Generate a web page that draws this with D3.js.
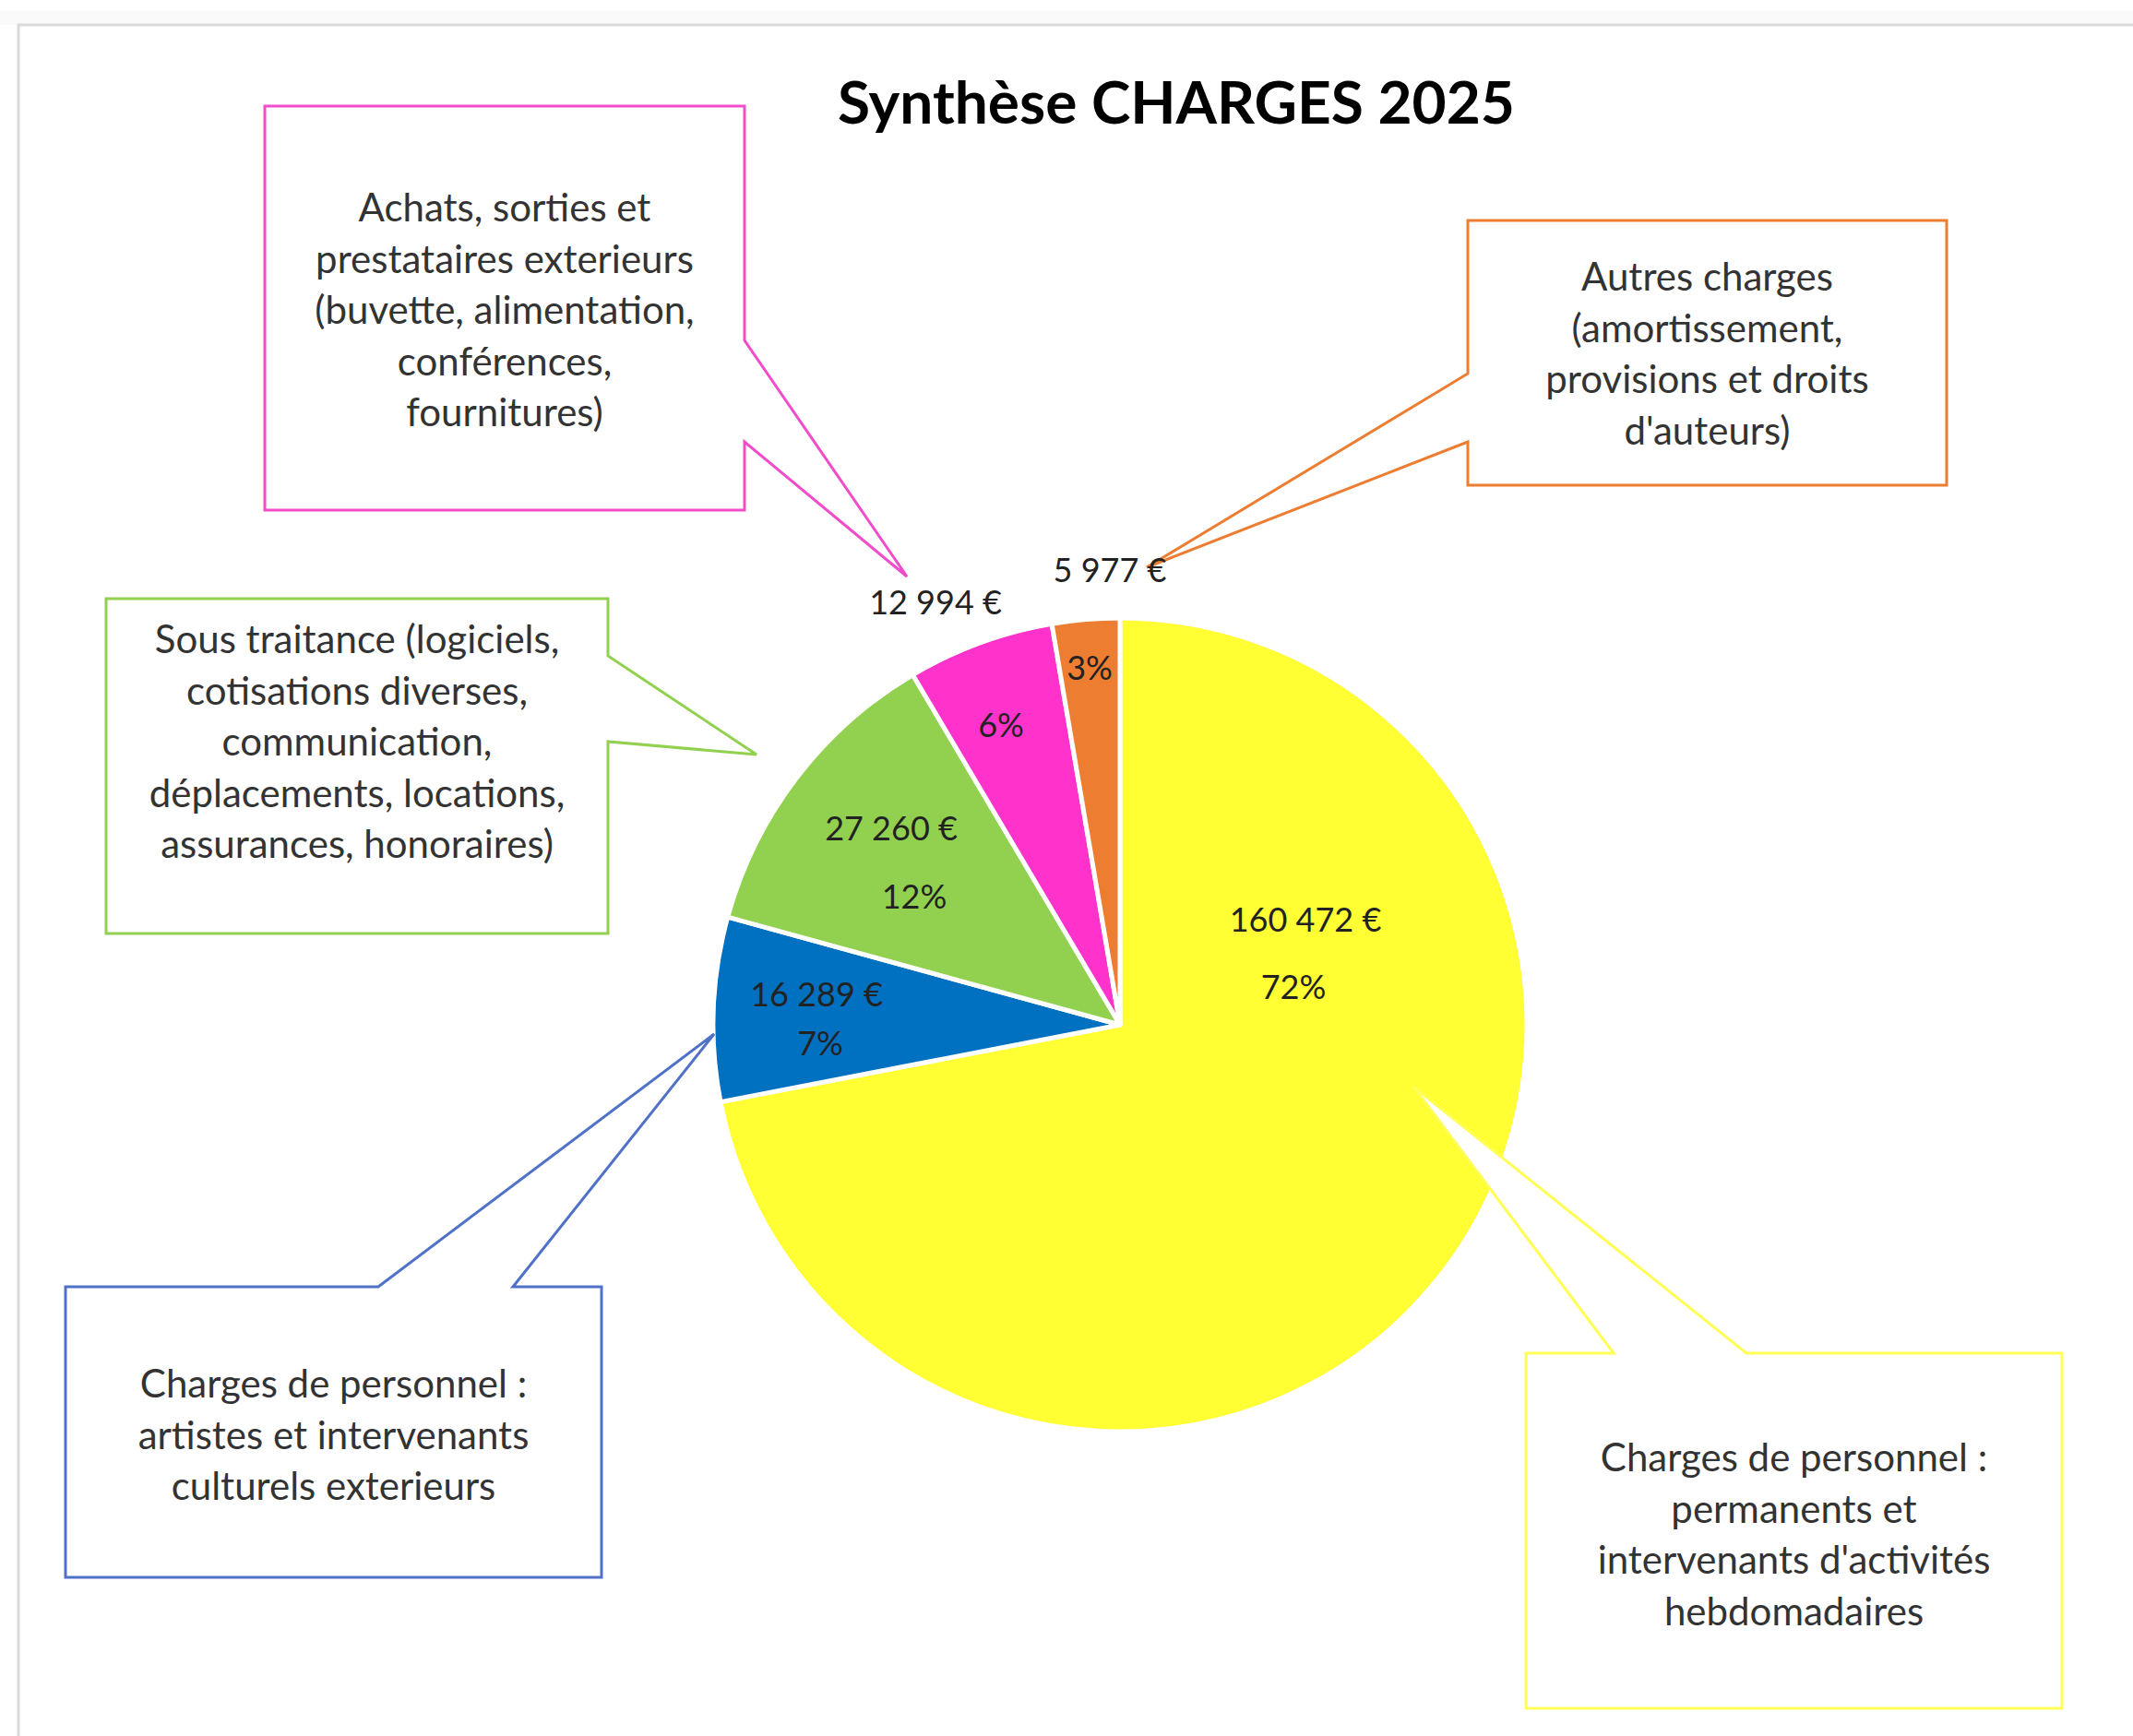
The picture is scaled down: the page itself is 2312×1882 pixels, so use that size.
<!DOCTYPE html>
<html>
<head>
<meta charset="utf-8">
<script src="https://cdn.jsdelivr.net/npm/d3@7"></script>
<style>
  body { margin: 0; background: #fff; }
  text { font-family: Lato, "Open Sans", sans-serif; }
</style>
</head>
<body>
<script>
var width = 2312, height = 1882;

// data (clockwise from 12 o'clock)
var categories = [
	"Charges de personnel : permanents et intervenants d'activités hebdomadaires",
	"Charges de personnel : artistes et intervenants culturels exterieurs",
	"Sous traitance (logiciels, cotisations diverses, communication, déplacements, locations, assurances, honoraires)",
	"Achats, sorties et prestataires exterieurs (buvette, alimentation, conférences, fournitures)",
	"Autres charges (amortissement, provisions et droits d'auteurs)"
];
var values = [160472, 16289, 27260, 12994, 5977];
var boxLines = [
	["Charges de personnel :", "permanents et", "intervenants d'activités", "hebdomadaires"],
	["Charges de personnel :", "artistes et intervenants", "culturels exterieurs"],
	["Sous traitance (logiciels,", "cotisations diverses,", "communication,", "déplacements, locations,", "assurances, honoraires)"],
	["Achats, sorties et", "prestataires exterieurs", "(buvette, alimentation,", "conférences,", "fournitures)"],
	["Autres charges", "(amortissement,", "provisions et droits", "d'auteurs)"]
];
var title = "Synthèse CHARGES 2025";

var colors = ["#ffff33", "#0070c0", "#92d050", "#ff33cc", "#ed7d31"],
	boxColors = ["#ffff55", "#4f72c8", "#92d050", "#f04ccc", "#ed7d31"];

// layout
var cx = 1214, cy = 1111, radius = 441;
// label offsets from pie centre: [value label, percent label]
var labelPos = [
	[[201, -114], [188, -41]],
	[[-329, -33], [-325, 20]],
	[[-248, -213], [-223, -139]],
	[[-200, -458], [-129, -325]],
	[[-11, -493], [-33, -387]]
];
// callout boxes: x0, y0, x1, y1, side of the tail, tail start/end along side, tip, first text line centre
var callouts = [
	{ box: [1654, 1467, 2235, 1852], side: "top", a: 1749, b: 1893, tip: [1532, 1178], ty: 1581 },
	{ box: [71, 1395, 652, 1710], side: "top", a: 410, b: 556, tip: [774, 1121], ty: 1501 },
	{ box: [115, 649, 659, 1012], side: "right", a: 711, b: 804, tip: [820, 818], ty: 694 },
	{ box: [287, 115, 807, 553], side: "right", a: 369, b: 479, tip: [983, 625], ty: 226 },
	{ box: [1591, 239, 2110, 526], side: "left", a: 405, b: 479, tip: [1243, 615], ty: 301 }
];
var lineH = 55.5, boxFont = 42, fontSize = 36;

var svg = d3.select("body").append("svg")
	.attr("width", width)
	.attr("height", height);

// frame
svg.append("rect").attr("x", 0).attr("y", 12).attr("width", width).attr("height", 15).style("fill", "#fafafa");
svg.append("path")
	.attr("d", "M20," + height + "V27H" + width)
	.style("fill", "none").style("stroke", "#d9d9d9").style("stroke-width", 3);

svg.append("text")
	.attr("x", 1275).attr("y", 134)
	.style("text-anchor", "middle")
	.style("font-size", "64px").style("font-weight", "bold").style("fill", "#000")
	.text(title);

var total = d3.sum(values);
var pie = d3.pie().sort(null).value(function(d) { return d; });
var arc = d3.arc().innerRadius(0).outerRadius(radius);
var arcs = pie(values);

var g = svg.append("g").attr("transform", "translate(" + cx + "," + cy + ")");
g.selectAll(".slice")
	.data(arcs)
	.enter().append("path")
	.attr("class", "slice")
	.attr("d", arc)
	.style("fill", function(d, i) { return colors[i]; })
	.style("stroke", "#fff")
	.style("stroke-width", 5)
	.style("stroke-linejoin", "round");

// callouts
function calloutPath(c) {
	var x0 = c.box[0], y0 = c.box[1], x1 = c.box[2], y1 = c.box[3];
	var t = c.tip[0] + "," + c.tip[1];
	if (c.side == "top")
		return "M" + x0 + "," + y0 + "H" + c.a + "L" + t + "L" + c.b + "," + y0 + "H" + x1 + "V" + y1 + "H" + x0 + "Z";
	if (c.side == "right")
		return "M" + x0 + "," + y0 + "H" + x1 + "V" + c.a + "L" + t + "L" + x1 + "," + c.b + "V" + y1 + "H" + x0 + "Z";
	return "M" + x0 + "," + y0 + "H" + x1 + "V" + y1 + "H" + x0 + "V" + c.b + "L" + t + "L" + x0 + "," + c.a + "Z";
}

var co = svg.selectAll(".callout")
	.data(callouts)
	.enter().append("g")
	.attr("class", "callout");

co.append("path")
	.attr("d", calloutPath)
	.style("fill", "#fff")
	.style("stroke", function(d, i) { return boxColors[i]; })
	.style("stroke-width", 3);

co.each(function(c, i) {
	var mid = (c.box[0] + c.box[2]) / 2;
	d3.select(this).selectAll("text")
		.data(boxLines[i])
		.enter().append("text")
		.attr("x", mid)
		.attr("y", function(d, j) { return c.ty + j * lineH + 14; })
		.style("text-anchor", "middle")
		.style("font-size", boxFont + "px")
		.style("fill", "#333")
		.text(function(d) { return d; });
});

// data labels
var fr = d3.formatLocale({ decimal: ",", thousands: " ", grouping: [3], currency: ["", " €"] });
var fmt = fr.format(",.0f");

var lab = svg.append("g").attr("transform", "translate(" + cx + "," + cy + ")");
lab.selectAll(".val")
	.data(values)
	.enter().append("text")
	.attr("class", "val")
	.attr("x", function(d, i) { return labelPos[i][0][0]; })
	.attr("y", function(d, i) { return labelPos[i][0][1] + 13; })
	.style("text-anchor", "middle")
	.style("font-size", fontSize + "px")
	.style("fill", "#222")
	.text(function(d) { return fmt(d) + " €"; });

lab.selectAll(".pct")
	.data(values)
	.enter().append("text")
	.attr("class", "pct")
	.attr("x", function(d, i) { return labelPos[i][1][0]; })
	.attr("y", function(d, i) { return labelPos[i][1][1] + 13; })
	.style("text-anchor", "middle")
	.style("font-size", fontSize + "px")
	.style("fill", "#222")
	.text(function(d) { return Math.round(d / total * 100) + "%"; });
</script>
</body>
</html>
